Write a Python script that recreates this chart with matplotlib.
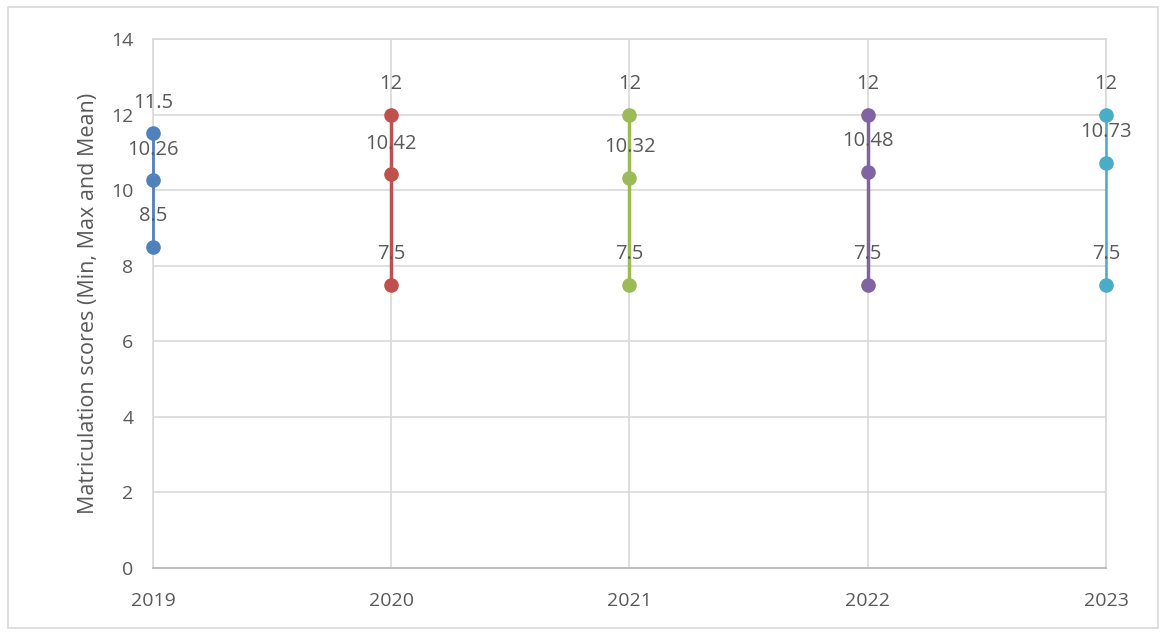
import numpy as np
import matplotlib
matplotlib.use("Agg")
import matplotlib.pyplot as plt
from matplotlib.patches import Rectangle

plt.rcParams['font.family'] = ['Open Sans', 'DejaVu Sans']

#==================================================================================================================
# data
years = ["2019", "2020", "2021", "2022", "2023"]
min_scores = [8.5, 7.5, 7.5, 7.5, 7.5]
mean_scores = [10.26, 10.42, 10.32, 10.48, 10.73]
max_scores = [11.5, 12, 12, 12, 12]
colors = ["#4F81BD", "#C0504D", "#9BBB59", "#8064A2", "#4BACC6"]
line_widths = [2, 2.5, 2.5, 2.5, 1.8]

text_col = "#595959"
grid_col = "#D9D9D9"

#==================================================================================================================

def fmt(v):
    return f"{v:g}"

fig = plt.figure(figsize=(11.64, 6.32), dpi=100)
ax = fig.add_axes([0.1314, 0.1013, 0.8188, 0.837])

for i, year in enumerate(years):
    vals = [min_scores[i], mean_scores[i], max_scores[i]]
    ax.plot([i] * 3, vals, color=colors[i], lw=line_widths[i], marker='o', ms=9.5, zorder=3, clip_on=False)
    for v in vals:
        ax.annotate(fmt(v), xy=(i, v), xytext=(0, 22), textcoords='offset points',
                    ha='center', va='center', fontsize=14.5, color=text_col, zorder=4)

ax.set_xlim(0, len(years) - 1)
ax.set_ylim(0, 14)
ax.set_xticks(range(len(years)))
ax.set_xticklabels(years)
ax.set_yticks(np.arange(0, 15, 2))
ax.tick_params(axis='both', length=0, labelsize=14, colors=text_col)
ax.tick_params(axis='x', pad=17)
ax.tick_params(axis='y', pad=14)
ax.grid(True, color=grid_col, lw=1.2)
ax.set_axisbelow(True)

for side in ['top', 'right', 'left']:
    ax.spines[side].set_color(grid_col)
    ax.spines[side].set_linewidth(1.2)
ax.spines['bottom'].set_color("#BFBFBF")
ax.spines['bottom'].set_linewidth(1.5)

ax.set_ylabel("Matriculation scores (Min, Max and Mean)", fontsize=15.5, color=text_col, labelpad=9)

# outer chart frame
fig.patches.append(Rectangle((8 / 1164, 4 / 632), 1150 / 1164, 621 / 632, transform=fig.transFigure,
                             fill=False, edgecolor=grid_col, lw=1.2))

fig.savefig("out.png", dpi=100)
